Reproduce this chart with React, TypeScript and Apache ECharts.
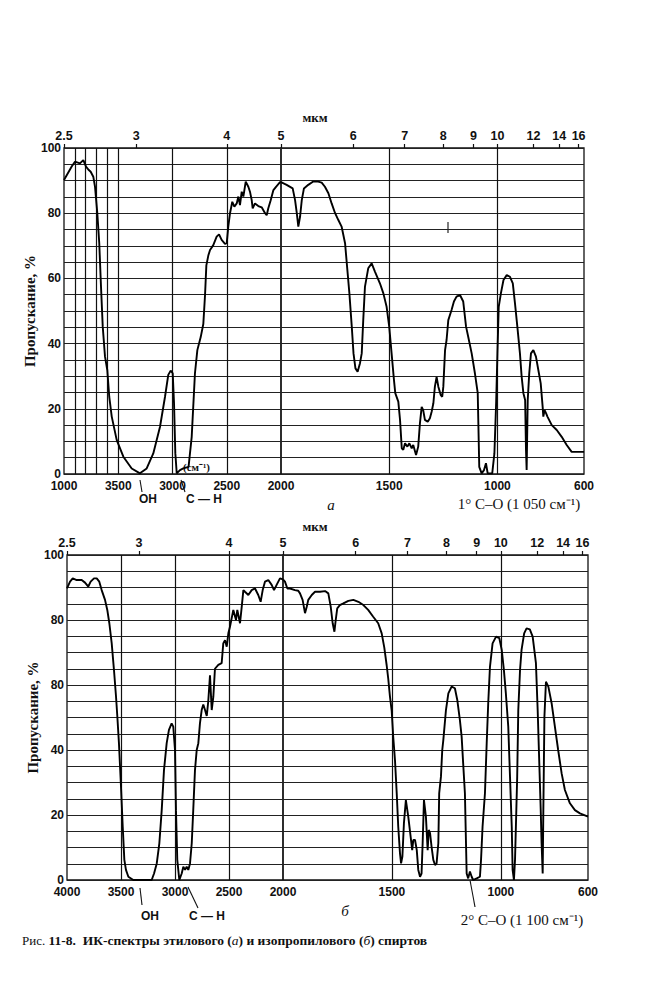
import React, { useEffect, useRef } from "react";
import * as echarts from "echarts";

// ---- Spectrum (a): ethanol ----
const wnA = [
  4000, 3929, 3899, 3853, 3822, 3797, 3776, 3754, 3730, 3714, 3693, 3675, 3659, 3643, 3622, 3601, 3583, 3560,
  3514, 3453, 3376, 3300, 3238, 3177, 3115, 3069, 3039, 3017, 2998, 2986, 2974, 2961, 2931, 2901, 2852, 2823,
  2793, 2771, 2740, 2716, 2700, 2688, 2670, 2654, 2624, 2593, 2571, 2547, 2516, 2500, 2486, 2470, 2449, 2430,
  2408, 2393, 2378, 2362, 2347, 2325, 2301, 2286, 2270, 2261, 2240, 2209, 2178, 2147, 2132, 2117, 2095, 2070,
  2046, 2009, 2000,
  1974, 1946, 1935, 1927, 1920, 1912, 1904, 1894, 1874, 1851, 1828, 1812, 1797, 1781, 1766, 1750, 1735, 1720,
  1704, 1696, 1684, 1673, 1665, 1656, 1646, 1635, 1627, 1620, 1612, 1597, 1581, 1566, 1543, 1527, 1512, 1500,
  1489, 1478, 1472, 1458, 1450, 1442, 1435, 1427, 1416, 1407, 1396, 1389, 1376, 1366, 1358, 1350, 1343, 1335,
  1322, 1312, 1304, 1296, 1289, 1281, 1273, 1262, 1255, 1250, 1242, 1235, 1227, 1212, 1201, 1189, 1173, 1158,
  1145, 1135, 1119, 1104, 1091, 1084, 1073, 1062, 1053, 1045, 1024, 1014, 1006, 1000, 994, 984, 972, 957, 942,
  929, 919, 908, 896, 888, 880, 872, 868, 865, 860, 853, 845, 834, 822, 811, 800, 791, 788, 782, 775, 769, 749,
  726, 703, 680, 657, 634, 600,
];
const tA = [
  90.2, 94.3, 95.8, 95.3, 96.3, 94.3, 93.4, 92.7, 91.2, 88.1, 80, 70.8, 57.5, 45.2, 36, 31.9, 23.7, 17.6,
  10.4, 5.3, 1.7, 0.2, 1.7, 6.3, 14.5, 23.7, 30.4, 31.7, 30.9, 21.7, 6.4, 0.2, 1.2, 1.7, 2.2, 11.4,
  30.9, 38, 42, 46, 55, 64, 67, 68.7, 70.2, 72.8, 73.5, 71.8, 70.6, 70.8, 75.9, 80, 83.5, 82,
  83, 85.1, 82.5, 86.6, 85.1, 89.7, 88.1, 86.6, 84, 81.5, 83, 82.2, 81.8, 80, 79.4, 81.5, 84, 87.1,
  88.1, 89.5, 89.5,
  88.7, 87.6, 84, 80, 75.9, 78.9, 84, 87.6, 88.7, 89.7, 89.7, 89.4, 88.1, 86.1, 83, 80, 77.9, 75.9,
  70.8, 64.6, 55.4, 45.2, 37, 32.4, 31.4, 34, 37, 47.2, 57.5, 63.1, 64.6, 62.1, 58.5, 55.4, 51.3, 45.2,
  37, 28.8, 24.8, 22.2, 16.6, 7.9, 7.4, 9.4, 8.4, 9.4, 7.9, 8.9, 5.8, 8.4, 15.6, 20.6, 19.6, 16.6,
  16, 17.1, 19.1, 21.7, 26.8, 29.8, 26.8, 24.2, 23.7, 26.8, 38, 41.1, 47.2, 50.3, 52.9, 54.4, 54.9, 52.9,
  45.2, 42.1, 37, 30.9, 24.8, 2.2, 0.2, 1.2, 3.3, 0.2, 0.2, 6.3, 21.7, 37, 51.3, 55.4, 59.5, 61, 60.5,
  58.5, 52.4, 45.2, 37, 29.8, 24.8, 22.7, 7.4, 1.2, 22.7, 30.9, 37, 38, 36, 31.9, 27.8, 20.6, 17.6, 19.6, 18.6, 17.6, 15,
  13.5, 11.4, 8.9, 6.8, 6.8, 6.8,
];

// ---- Spectrum (б): isopropanol ----
const wnB = [
  4000, 3972, 3947, 3910, 3864, 3833, 3803, 3781, 3750, 3725, 3701, 3679, 3648, 3627, 3608, 3586, 3565, 3546,
  3534, 3519, 3500, 3484, 3469, 3454, 3432, 3386, 3216, 3194, 3169, 3145, 3123, 3102, 3077, 3056, 3031, 3016,
  3000, 2991, 2979, 2960, 2938, 2923, 2907, 2892, 2877, 2861, 2845, 2831, 2815, 2799, 2784, 2769, 2753, 2738,
  2722, 2706, 2692, 2676, 2660, 2645, 2630, 2599, 2568, 2553, 2537, 2521, 2506, 2491, 2460, 2435, 2423, 2398,
  2382, 2367, 2352, 2321, 2290, 2259, 2229, 2207, 2188, 2167, 2136, 2105, 2083, 2059, 2028, 2000,
  1991, 1980, 1968, 1945, 1930, 1922, 1910, 1899, 1891, 1884, 1868, 1853, 1830, 1807, 1792, 1781, 1772, 1764,
  1758, 1751, 1739, 1723, 1700, 1677, 1654, 1631, 1609, 1586, 1563, 1547, 1535, 1524, 1517, 1509, 1501, 1494,
  1486, 1478, 1471, 1463, 1458, 1452, 1445, 1436, 1425, 1414, 1407, 1402, 1394, 1386, 1379, 1371, 1364, 1359,
  1353, 1344, 1336, 1331, 1325, 1318, 1310, 1302, 1295, 1287, 1283, 1275, 1269, 1264, 1252, 1241, 1226, 1211,
  1200, 1188, 1180, 1173, 1165, 1160, 1157, 1150, 1142, 1134, 1127, 1111, 1096, 1091, 1084, 1073, 1065, 1058,
  1050, 1038, 1022, 1007, 996, 986, 977, 966, 958, 950, 946, 940, 935, 931, 925, 920, 912, 905, 893, 882, 867,
  854, 839, 831, 824, 817, 813, 808, 805, 800, 793, 782, 767, 752, 737, 721, 706, 683, 660, 637, 600,
];
const tB = [
  89.7, 91.8, 92.8, 92.3, 92.3, 91.5, 90.3, 91.8, 92.8, 92.8, 91.8, 89.2, 86.2, 83.1, 79, 72.8, 64.6, 56.4,
  50.3, 42.1, 28.7, 16.4, 6.2, 3.1, 1, 0, 0, 2, 5.1, 11.3, 21.5, 33.8, 42.1, 46.2, 48.2, 47.2,
  40, 21.5, 6.2, 0, 2, 4.1, 3.1, 4.1, 3.1, 5.1, 11.3, 21.5, 33.8, 40, 42.1, 48.2, 52.3, 54,
  52.3, 50.5, 55, 63, 52.3, 56.4, 65, 66.2, 66.7, 72.8, 73.8, 71.8, 75.9, 77.9, 83.1, 80, 83.1, 79,
  84.1, 89.2, 88.7, 87.7, 89.2, 89.7, 87.7, 85.6, 89.2, 91.8, 92.3, 90.8, 89.2, 90.8, 92.8, 92.5,
  91.8, 89.7, 89.7, 89.2, 89, 88.2, 86.2, 82.1, 84.1, 86.2, 87.7, 88.7, 88.7, 88.9, 88.2, 84.1, 79, 76.4,
  80, 83.6, 84.6, 85.1, 85.9, 86.2, 85.6, 84.6, 83.1, 81, 79, 75.9, 71.5, 66, 62, 56.4, 52, 44,
  36.9, 26.7, 16.4, 8.2, 5.1, 7.2, 17.4, 24.6, 19.5, 13.3, 9.2, 12.3, 12.3, 9.2, 3.1, 1, 2, 11.3,
  24.6, 19.5, 9.2, 15.4, 14.4, 10.2, 6.2, 4.6, 5.1, 11.3, 26.7, 31.8, 40, 43.1, 52.3, 57.4, 59.5, 59,
  55.4, 49.2, 44.1, 35.9, 26.7, 11.3, 2, 0.5, 2.6, 1, 0, 0.5, 1, 6.2, 16.4, 26.7, 42.1, 54.4,
  65.6, 72.8, 74.9, 74.4, 70.8, 64.6, 57.4, 47.2, 31.8, 16.4, 3.1, 0, 6.2, 16.4, 31.8, 52.3, 64.6, 70.8, 75.9, 77.4, 77.1,
  74.9, 66.7, 52.3, 36.9, 21.5, 11.3, 2, 21.5, 50.3, 61, 59.5, 54.4, 47.2, 40, 32.8, 27.7, 23.6, 21.5, 20.5, 19.5,
];

// ---- Axis ticks and labels ----
const micronTicks = [2.5, 3, 4, 5, 6, 7, 8, 9, 10, 12, 14, 16];
const wnLabelValues = [4000, 3500, 3000, 2500, 2000, 1500, 1000, 600];
const wnLabelTextA = ["1000", "3500", "3000", "2500", "2000", "1500", "1000", "600"];
const wnLabelTextB = ["4000", "3500", "3000", "2500", "2000", "1500", "1000", "600"];
const yLabelValues = [0, 20, 40, 60, 80, 100];
const yLabelTextA = ["0", "20", "40", "60", "80", "100"];
const yLabelTextB = ["0", "20", "40", "80", "80", "100"];
const vLinesA = [3900, 3800, 3700, 3600, 3500, 3000, 2500, 1500, 1000];
const vLinesB = [3500, 3000, 2500, 1500, 1000];

const yName = "Пропускание, %";
const unitLabel = "мкм";
const caption = "Рис. 11-8. ИК-спектры этилового (а) и изопропилового (б) спиртов";

const SANS = "'Liberation Sans', Arial, sans-serif";
const SERIF = "'Liberation Serif', 'Times New Roman', serif";
const INK = "#111";

function splitAt2000(wn: number[], t: number[]) {
  const left: number[][] = [];
  const right: number[][] = [];
  wn.forEach((w, i) => {
    if (w >= 2000) left.push([w, t[i]]);
    if (w <= 2000) right.push([w, t[i]]);
  });
  return [left, right];
}

function lookup(values: number[], texts: string[], v: number) {
  for (let i = 0; i < values.length; i++) if (Math.abs(values[i] - v) < 0.5) return texts[i];
  return "";
}

function fmtMicron(v: number) {
  return String(Math.round((10000 / v) * 10) / 10);
}

const panels = [
  { wn: wnA, t: tA, left: 64, mid: 281, right: 584, top: 148, bottom: 474, xText: wnLabelTextA, yText: yLabelTextA, vLines: vLinesA, nameGap: 24 },
  { wn: wnB, t: tB, left: 67, mid: 283, right: 588, top: 555, bottom: 880, xText: wnLabelTextB, yText: yLabelTextB, vLines: vLinesB, nameGap: 24 },
];

function buildOption() {
  const grid: any[] = [];
  const xAxis: any[] = [];
  const yAxis: any[] = [];
  const series: any[] = [];
  panels.forEach((p) => {
    const [dl, dr] = splitAt2000(p.wn, p.t);
    const parts = [
      { min: 2000, max: 4000, left: p.left, width: p.mid - p.left, data: dl, first: true },
      { min: 600, max: 2000, left: p.mid, width: p.right - p.mid, data: dr, first: false },
    ];
    parts.forEach((part) => {
      const gi = grid.length;
      grid.push({
        left: part.left,
        top: p.top,
        width: part.width,
        height: p.bottom - p.top,
        show: true,
        borderColor: INK,
        borderWidth: 1.3,
        backgroundColor: "transparent",
      });
      const inRange = (v: number) => (part.first ? v >= 2000 : v < 2000);
      const labelVals = wnLabelValues.filter(inRange);
      const microVals = micronTicks.map((m) => 10000 / m).filter(inRange);
      const xText = p.xText;
      xAxis.push({
        gridIndex: gi,
        type: "value",
        inverse: true,
        min: part.min,
        max: part.max,
        position: "bottom",
        axisLine: { show: false },
        axisTick: { show: false, customValues: p.vLines.filter((v) => v > part.min && v < part.max) },
        splitLine: { show: true, lineStyle: { color: INK, width: 1.2 } },
        axisLabel: {
          customValues: labelVals,
          formatter: (v: number) => lookup(wnLabelValues, xText, v),
          margin: 6,
          color: INK,
          fontFamily: SANS,
          fontSize: 12,
          fontWeight: "bold",
        },
      });
      const bi = xAxis.length - 1;
      xAxis.push({
        gridIndex: gi,
        type: "value",
        inverse: true,
        min: part.min,
        max: part.max,
        position: "top",
        axisLine: { show: false },
        axisTick: { show: true, customValues: microVals, length: 4, lineStyle: { color: INK, width: 1.2 } },
        splitLine: { show: false },
        axisLabel: {
          customValues: microVals,
          formatter: (v: number) => fmtMicron(v),
          margin: 6,
          color: INK,
          fontFamily: SANS,
          fontSize: 12.5,
          fontWeight: "bold",
        },
      });
      const yText = p.yText;
      yAxis.push({
        gridIndex: gi,
        type: "value",
        min: 0,
        max: 100,
        interval: 5,
        axisLine: { show: false },
        axisTick: { show: false },
        splitLine: { show: true, lineStyle: { color: "#222", width: 1 } },
        axisLabel: part.first
          ? {
              customValues: yLabelValues,
              formatter: (v: number) => lookup(yLabelValues, yText, v),
              margin: 3,
              color: INK,
              fontFamily: SANS,
              fontSize: 12,
              fontWeight: "bold",
            }
          : { show: false },
        name: part.first ? yName : "",
        nameLocation: "middle",
        nameGap: p.nameGap,
        nameRotate: 90,
        nameTextStyle: { fontFamily: SERIF, fontSize: 15, fontWeight: "bold", color: INK },
      });
      series.push({
        type: "line",
        xAxisIndex: bi,
        yAxisIndex: gi,
        data: part.data,
        showSymbol: false,
        symbol: "none",
        silent: true,
        clip: true,
        lineStyle: { color: "#000", width: 1.9 },
      });
    });
  });

  const txt = (x: number, y: number, text: string, font: string, align = "center") => ({
    type: "text",
    x,
    y,
    silent: true,
    style: { text, fill: INK, font, align, verticalAlign: "middle" },
  });
  const seg = (x1: number, y1: number, x2: number, y2: number) => ({
    type: "line",
    silent: true,
    shape: { x1, y1, x2, y2 },
    style: { stroke: INK, lineWidth: 1.1 },
  });
  const sansB = `bold 12px ${SANS}`;
  const serif15 = `15px ${SERIF}`;
  const unitFont = `bold 13px ${SERIF}`;
  const graphic = [
    // panel (a)
    txt(315, 117, unitLabel, unitFont),
    txt(183, 467, "(см⁻¹)", `bold 11px ${SERIF}`, "left"),
    seg(140, 480, 142, 492),
    txt(148, 499, "OH", sansB),
    seg(181, 480, 185, 492),
    txt(204, 499, "C — H", sansB),
    txt(331, 505, "а", `italic 15px ${SERIF}`),
    txt(519, 504, "1° C–O (1 050 см⁻¹)", serif15),
    seg(448, 222, 448, 233),
    // panel (б)
    txt(315, 526, unitLabel, unitFont),
    seg(140, 888, 142, 905),
    txt(150, 916, "OH", sansB),
    seg(188, 887, 198, 908),
    txt(207, 916, "C — H", sansB),
    txt(345, 911, "б", `italic 15px ${SERIF}`),
    seg(470, 880, 475, 907),
    txt(522, 920, "2° C–O (1 100 см⁻¹)", serif15),
    // caption
    {
      type: "text",
      x: 22,
      y: 940,
      silent: true,
      style: {
        text: "{s|Рис.} {n|11-8.  ИК-спектры этилового (}{i|а}{n|) и изопропилового (}{i|б}{n|) спиртов}",
        align: "left",
        verticalAlign: "middle",
        fill: INK,
        rich: {
          s: { font: `13px ${SERIF}`, fill: INK },
          n: { font: `bold 13.5px ${SERIF}`, fill: INK },
          i: { font: `italic 13.5px ${SERIF}`, fill: INK },
        },
      },
    },
  ];

  return {
    animation: false,
    backgroundColor: "#fff",
    grid,
    xAxis,
    yAxis,
    series,
    graphic,
  };
}

export default function App() {
  const ref = useRef<HTMLDivElement>(null);
  useEffect(() => {
    document.body.style.margin = "0";
    if (!ref.current) return;
    const chart = echarts.init(ref.current, undefined, { renderer: "svg" });
    chart.setOption(buildOption() as any);
    return () => chart.dispose();
  }, []);
  return <div ref={ref} style={{ width: 660, height: 1000 }} aria-label={caption} />;
}
